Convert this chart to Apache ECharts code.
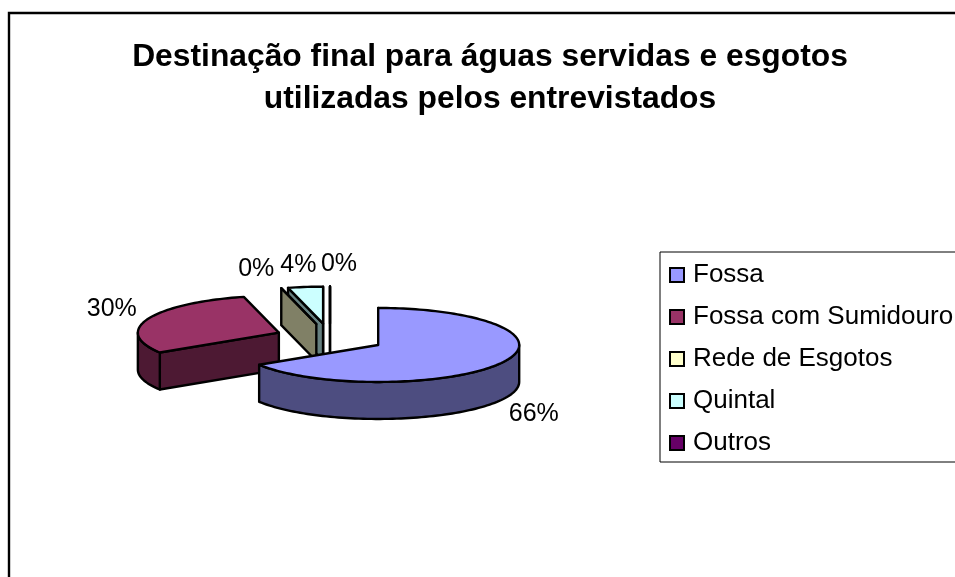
<!DOCTYPE html>
<html>
<head>
<meta charset="utf-8">
<style>html,body{margin:0;padding:0;background:#fff}#c{width:955px;height:577px}</style>
<script src="https://cdn.jsdelivr.net/npm/echarts@6/dist/echarts.min.js"></script>
</head>
<body>
<div id="c"></div>
<script>
var categories = ['Fossa', 'Fossa com Sumidouro', 'Rede de Esgotos', 'Quintal', 'Outros'];
var percentValues = [66, 30, 0, 4, 0];
var topColors = ['#9999FF', '#993366', '#FFFFCC', '#CCFFFF', '#660066'];
var sideColors = ['#4D4D80', '#4D1933', '#808066', '#668080', '#330033'];
var drawOrder = [4, 3, 2, 1, 0];
var labelOffsets = [[32, 51], [-36, -10], [-25, -19], [-7, -22], [9, -22]];

var FONT = '"Liberation Sans", Arial, sans-serif';
var pie = { cx: 330, cy: 338, rx: 141, ry: 37, depth: 37, explode: 55 };

var total = percentValues.reduce(function (a, b) { return a + b; }, 0);
var spans = [];
percentValues.reduce(function (acc, v, i) {
  var next = acc + v / total * Math.PI * 2;
  spans[i] = [acc, next];
  return next;
}, 0);

function rim(c, a) { return [c[0] + pie.rx * Math.sin(a), c[1] - pie.ry * Math.cos(a)]; }
function down(p) { return [p[0], p[1] + pie.depth]; }
function arc(c, a0, a1) {
  var n = Math.max(1, Math.ceil((a1 - a0) / 0.03)), pts = [];
  for (var i = 0; i <= n; i++) pts.push(rim(c, a0 + (a1 - a0) * i / n));
  return pts;
}

function renderSlice(params, api) {
  var i = api.value(0);
  var a0 = spans[i][0], a1 = spans[i][1], mid = (a0 + a1) / 2;
  var c = [pie.cx + pie.explode * Math.sin(mid),
           pie.cy - pie.explode * pie.ry / pie.rx * Math.cos(mid)];
  var line = { stroke: '#000', lineWidth: 2.4, lineJoin: 'round' };
  function poly(points, fill) {
    return { type: 'polygon', shape: { points: points },
             style: Object.assign({ fill: fill }, line) };
  }
  function face(a) {
    var r = rim(c, a);
    return poly([c, r, down(r), down(c)], sideColors[i]);
  }
  var kids = [];
  if (Math.sin(a0) <= 1e-9) kids.push(face(a0));
  if (Math.sin(a1) >= -1e-9) kids.push(face(a1));
  var lo = Math.max(a0, Math.PI / 2), hi = Math.min(a1, Math.PI * 1.5);
  if (hi > lo) {
    var wall = arc(c, lo, hi);
    kids.push(poly(wall.concat(wall.slice().reverse().map(down)), sideColors[i]));
  }
  kids.push(poly([c].concat(arc(c, a0, a1)), topColors[i]));
  var anchor = rim(c, mid);
  kids.push({
    type: 'text',
    style: {
      text: api.value(1) + '%',
      x: anchor[0] + labelOffsets[i][0], y: anchor[1] + labelOffsets[i][1],
      align: 'center', verticalAlign: 'middle',
      font: '25px ' + FONT, fill: '#000'
    }
  });
  return { type: 'group', children: kids };
}

var chart = echarts.init(document.getElementById('c'), null, { renderer: 'canvas' });
chart.setOption({
  animation: false,
  backgroundColor: '#fff',
  title: {
    text: 'Destinação final para águas servidas e esgotos\nutilizadas pelos entrevistados',
    left: 485, top: 31, textAlign: 'center',
    textStyle: { fontFamily: FONT, fontWeight: 'bold', fontSize: 31.8, lineHeight: 42, color: '#000' }
  },
  legend: {
    orient: 'vertical', left: 660, top: 252,
    data: categories,
    icon: 'rect', itemWidth: 14, itemHeight: 14, itemGap: 16,
    padding: [10, 20, 6, 9],
    backgroundColor: '#fff', borderColor: '#000', borderWidth: 1,
    selectedMode: false,
    itemStyle: { borderColor: '#000', borderWidth: 2 },
    textStyle: { fontFamily: FONT, fontSize: 26, color: '#000', padding: [0, 0, 0, 4] }
  },
  graphic: [{
    type: 'polyline', silent: true,
    shape: { points: [[9, 590], [9, 13], [970, 13]] },
    style: { stroke: '#000', lineWidth: 2.4, fill: null }
  }],
  series: drawOrder.map(function (i) {
    return {
      type: 'custom', name: categories[i], coordinateSystem: 'none',
      renderItem: renderSlice,
      itemStyle: { color: topColors[i] },
      data: [[i, percentValues[i]]],
      silent: true
    };
  })
});
</script>
</body>
</html>
